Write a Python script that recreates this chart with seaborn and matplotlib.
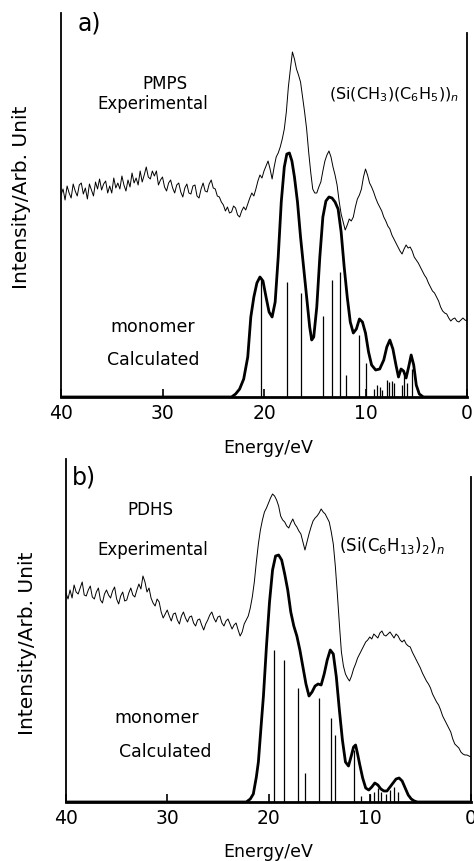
import numpy as np
import matplotlib
matplotlib.use("Agg")
import matplotlib.pyplot as plt
import seaborn as sns

# ---------------- data ----------------
# common energy grid of the measured spectra (eV)
exp_energy = np.round(np.arange(40.0, -0.01, -0.2), 1)

# panel a) PMPS experimental (arbitrary units)
exp_a = [202, 208, 197, 211, 204, 199, 213, 206, 201, 212,
         214, 203, 209, 198, 213, 207, 201, 215, 208, 218,
         207, 213, 216, 204, 211, 204, 219, 209, 214, 208,
         221, 212, 206, 217, 210, 224, 214, 219, 212, 226,
         215, 222, 230, 220, 218, 226, 221, 226, 212, 217,
         220, 210, 206, 214, 217, 209, 204, 212, 214, 205,
         200, 209, 213, 204, 203, 211, 212, 201, 199, 208,
         214, 206, 205, 213, 217, 209, 208, 201, 200, 195,
         192, 186, 190, 184, 185, 191, 189, 182, 180, 186,
         190, 187, 193, 199, 204, 201, 208, 216, 222, 219,
         226, 231, 236, 228, 218, 230, 240, 244, 250, 258,
         268, 285, 310, 328, 345, 338, 328, 322, 315, 300,
         285, 268, 245, 225, 208, 204, 204, 210, 215, 226,
         236, 242, 246, 240, 230, 222, 212, 196, 183, 175,
         167, 172, 178, 176, 180, 190, 198, 202, 208, 220,
         228, 222, 214, 210, 205, 199, 194, 190, 186, 180,
         176, 171, 168, 162, 158, 154, 150, 146, 143, 148,
         152, 149, 150, 146, 140, 137, 134, 130, 126, 122,
         119, 114, 110, 106, 104, 100, 96, 90, 86, 84,
         83, 79, 76, 78, 79, 76, 75, 77, 79, 77,
         76]

# panel a) monomer calculated (broadened)
calc_a_energy = [40, 23.2, 22.8, 22.4, 22.0, 21.6, 21.3, 21.0, 20.7, 20.4, 20.1, 19.8,
                 19.5, 19.2, 18.9, 18.6, 18.3, 18.0, 17.75, 17.5, 17.25, 17.0, 16.7,
                 16.4, 16.1, 15.8, 15.5, 15.3, 15.1, 14.8, 14.5, 14.2, 13.9, 13.6, 13.3,
                 13.0, 12.7, 12.4, 12.1, 11.8, 11.5, 11.2, 10.9, 10.6, 10.3, 10.0, 9.7,
                 9.4, 9.0, 8.6, 8.2, 7.9, 7.6, 7.3, 7.0, 6.75, 6.5, 6.25, 6.0, 5.75, 5.5,
                 5.25, 5.0, 4.7, 4.3, 0]
calc_a = [0, 0, 3, 8, 18, 40, 80, 100, 114, 120, 116, 100, 85, 80, 95, 140, 195, 230,
          243, 244, 236, 220, 195, 160, 130, 100, 70, 57, 60, 90, 140, 180, 196, 200,
          199, 195, 188, 165, 130, 100, 75, 64, 68, 78, 75, 64, 45, 32, 27, 28, 37, 50,
          57, 48, 32, 20, 28, 26, 19, 30, 42, 32, 12, 3, 0, 0]

# panel a) calculated transition lines
stick_a_energy = [20.3, 17.7, 16.35, 14.2, 13.3, 12.5, 11.9, 10.6, 9.95, 9.2, 8.9,
                  8.55, 8.4, 7.9, 7.7, 7.4, 7.2, 6.45, 6.2, 5.95, 5.45]
stick_a = [120, 115, 104, 81, 117, 125, 22, 62, 34, 8, 12, 10, 7, 17, 15, 16, 14,
           12, 22, 14, 28]

# panel b) PDHS experimental
exp_b = [209, 203, 212, 204, 217, 210, 208, 214, 220, 207,
         206, 212, 216, 205, 203, 210, 214, 202, 199, 208,
         212, 207, 204, 211, 215, 203, 198, 206, 210, 201,
         202, 209, 214, 207, 205, 212, 218, 213, 226, 220,
         210, 214, 204, 199, 196, 203, 200, 190, 184, 188,
         192, 186, 181, 188, 189, 182, 178, 186, 190, 184,
         180, 185, 186, 179, 176, 182, 183, 177, 172, 178,
         182, 187, 190, 184, 180, 185, 186, 179, 176, 181,
         183, 178, 173, 177, 179, 172, 166, 170, 178, 182,
         186, 194, 205, 220, 240, 258, 272, 282, 290, 294,
         299, 304, 308, 306, 302, 296, 286, 282, 280, 276,
         274, 279, 283, 278, 275, 271, 268, 260, 252, 260,
         268, 275, 281, 284, 286, 289, 293, 290, 288, 284,
         280, 270, 258, 236, 208, 178, 150, 136, 128, 124,
         121, 126, 133, 138, 144, 148, 152, 156, 160, 162,
         165, 163, 168, 166, 164, 169, 171, 167, 166, 168,
         170, 167, 164, 168, 166, 162, 160, 162, 158, 156,
         155, 150, 146, 142, 138, 134, 129, 125, 121, 118,
         114, 108, 104, 100, 97, 92, 86, 82, 78, 74,
         70, 63, 58, 56, 54, 50, 48, 47, 47, 46,
         45]

# panel b) monomer calculated (broadened)
calc_b_energy = [40, 22.2, 21.8, 21.5, 21.2, 21.0, 20.7, 20.5, 20.2, 19.9, 19.6, 19.3,
                 19.0, 18.7, 18.4, 18.1, 17.8, 17.5, 17.2, 16.9, 16.6, 16.3, 16.0, 15.7,
                 15.4, 15.1, 14.8, 14.5, 14.2, 13.9, 13.6, 13.3, 13.0, 12.7, 12.4, 12.1,
                 11.8, 11.6, 11.4, 11.2, 11.0, 10.7, 10.4, 10.1, 9.8, 9.5, 9.2, 8.9, 8.6,
                 8.3, 8.0, 7.7, 7.4, 7.1, 6.8, 6.5, 6.2, 5.9, 5.6, 5.3, 5.0, 0]
calc_b = [0, 0, 3, 8, 25, 40, 80, 106, 156, 200, 232, 246, 247, 242, 228, 212, 190,
          176, 166, 152, 135, 118, 106, 110, 116, 118, 117, 128, 142, 152, 148, 125,
          92, 62, 40, 36, 47, 55, 57, 48, 38, 24, 14, 12, 15, 19, 17, 13, 11, 11, 15,
          19, 23, 24, 21, 14, 7, 3, 1, 0, 0, 0]

# panel b) calculated transition lines
stick_b_energy = [19.45, 18.5, 17.05, 16.35, 15.05, 13.8, 13.45, 11.55, 10.9, 10.0,
                  9.6, 9.2, 8.9, 8.4, 8.0, 7.6, 7.2]
stick_b = [152, 142, 114, 29, 104, 84, 67, 52, 6, 8, 10, 14, 10, 8, 12, 15, 10]

x_ticks = [40, 30, 20, 10, 0]
x_tick_labels = ["40", "30", "20", "10", "0"]

# ---------------- figure ----------------
sns.set_style("white")
plt.rcParams["font.family"] = ["DejaVu Sans"]
plt.rcParams["text.color"] = "black"

W, H = 474, 861
fig = plt.figure(figsize=(W / 100, H / 100), dpi=100)


def px_axes(x0, y0, x1, y1):
    return fig.add_axes([x0 / W, 1 - y1 / H, (x1 - x0) / W, (y1 - y0) / H])


def ftext(x, y, s, **kw):
    fig.text(x / W, 1 - y / H, s, color="black", **kw)


def style_axes(ax, ytop, right_top):
    ax.set_xlim(40, 0)
    ax.set_ylim(0, ytop)
    ax.set_yticks([])
    ax.set_xticks(x_ticks)
    ax.set_xticklabels(x_tick_labels, fontsize=13.5)
    ax.tick_params(axis="x", direction="in", length=6, width=1.2, pad=5,
                   bottom=True, colors="black", labelcolor="black")
    ax.spines["top"].set_visible(False)
    for s in ["left", "right"]:
        ax.spines[s].set_color("black")
        ax.spines[s].set_linewidth(1.3)
    ax.spines["bottom"].set_color("black")
    ax.spines["bottom"].set_linewidth(2.0)
    ax.spines["right"].set_bounds(0, right_top)
    ax.set_xlabel("")
    ax.set_ylabel("")
    ax.set_facecolor("white")


# panel a
ax_a = px_axes(61, 13, 467, 397)
sns.lineplot(x=exp_energy, y=exp_a, ax=ax_a, sort=False, estimator=None,
             color="black", linewidth=0.7)
sns.lineplot(x=calc_a_energy, y=calc_a, ax=ax_a, sort=False, estimator=None,
             color="black", linewidth=2.0)
ax_a.vlines(stick_a_energy, 0, stick_a, color="black", linewidth=0.9)
style_axes(ax_a, 384, 364)

# panel b
ax_b = px_axes(66, 459, 471, 802)
sns.lineplot(x=exp_energy, y=exp_b, ax=ax_b, sort=False, estimator=None,
             color="black", linewidth=0.7)
sns.lineplot(x=calc_b_energy, y=calc_b, ax=ax_b, sort=False, estimator=None,
             color="black", linewidth=2.0)
ax_b.vlines(stick_b_energy, 0, stick_b, color="black", linewidth=0.9)
style_axes(ax_b, 343, 325)

# texts panel a
ftext(78, 24, "a)", fontsize=17, va="center", ha="left")
ftext(165, 84, "PMPS", fontsize=12, ha="center", va="center")
ftext(153, 104, "Experimental", fontsize=12, ha="center", va="center")
ftext(329, 95, r"(Si(CH$_3$)(C$_6$H$_5$))$_n$", fontsize=11.5, ha="left", va="center")
ftext(153, 327, "monomer", fontsize=12.5, ha="center", va="center")
ftext(153, 360, "Calculated", fontsize=12.5, ha="center", va="center")
ftext(22, 197, "Intensity/Arb. Unit", fontsize=14.5, rotation=90, ha="center", va="center")
ftext(268, 448, "Energy/eV", fontsize=12.5, ha="center", va="center")

# texts panel b
ftext(72, 478, "b)", fontsize=17, va="center", ha="left")
ftext(150, 510, "PDHS", fontsize=12, ha="center", va="center")
ftext(153, 550, "Experimental", fontsize=12, ha="center", va="center")
ftext(339, 545, r"(Si(C$_6$H$_{13}$)$_2$)$_n$", fontsize=12, ha="left", va="center")
ftext(157, 718, "monomer", fontsize=12.5, ha="center", va="center")
ftext(165, 752, "Calculated", fontsize=12.5, ha="center", va="center")
ftext(28, 643, "Intensity/Arb. Unit", fontsize=14.5, rotation=90, ha="center", va="center")
ftext(268, 852, "Energy/eV", fontsize=12.5, ha="center", va="center")

fig.savefig("out.png", dpi=100, facecolor="white")
